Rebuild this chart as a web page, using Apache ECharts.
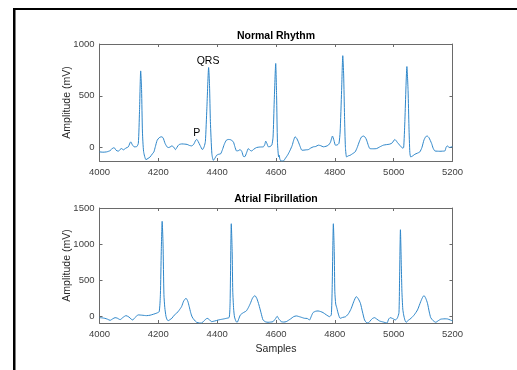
<!DOCTYPE html>
<html>
<head>
<meta charset="utf-8">
<script src="https://cdn.jsdelivr.net/npm/echarts@6/dist/echarts.min.js"></script>
<style>
  html, body { margin: 0; padding: 0; background: #fff; }
  #chart { width: 517px; height: 370px; }
</style>
</head>
<body>
<div id="chart"></div>
<script>
// Normal rhythm trace, [sample, amplitude]
const normalRhythm = [
  [4000,-42],[4012,-45],[4024,-42],[4036,-30],[4045,-5],[4050,-2],[4056,-25],[4064,-36],[4070,-18],[4075,-10],
  [4081,-22],[4090,-5],[4098,7],[4106,55],[4112,25],[4118,7],[4126,8],[4132,40],[4136,350],[4140,740],
  [4143,560],[4146,150],[4150,-40],[4158,-117],[4165,-105],[4172,-91],[4180,-60],[4185,-42],[4190,10],[4196,70],
  [4203,95],[4210,104],[4216,95],[4223,39],[4230,5],[4234,0],[4240,5],[4246,16],[4252,5],[4258,-20],
  [4264,5],[4270,28],[4280,35],[4290,33],[4298,30],[4306,20],[4313,16],[4320,30],[4327,70],[4331,78],
  [4336,55],[4342,20],[4350,-20],[4356,10],[4360,60],[4365,380],[4371,773],[4374,600],[4377,250],[4382,-60],
  [4387,-124],[4393,-100],[4398,-75],[4405,-65],[4412,-60],[4418,-20],[4424,30],[4431,70],[4438,78],[4446,75],
  [4455,55],[4460,10],[4466,-33],[4472,-30],[4478,-20],[4484,-40],[4489,-85],[4494,-88],[4500,-50],[4506,-10],
  [4511,-25],[4517,-33],[4525,-15],[4534,0],[4545,5],[4557,7],[4562,30],[4565,62],[4569,40],[4574,7],
  [4580,10],[4586,25],[4590,100],[4594,450],[4599,812],[4602,500],[4605,50],[4609,-91],[4611,-75],[4613,-110],
  [4617,-130],[4625,-130],[4631,-108],[4640,-70],[4648,-26],[4655,20],[4660,70],[4665,104],[4670,90],[4676,55],
  [4682,10],[4688,-26],[4695,-25],[4703,-22],[4710,-20],[4718,-5],[4727,7],[4735,10],[4744,23],[4752,18],
  [4761,7],[4770,12],[4778,23],[4785,50],[4792,111],[4797,70],[4802,23],[4808,25],[4814,40],[4818,150],
  [4823,550],[4827,887],[4830,700],[4833,300],[4836,0],[4840,-91],[4846,-80],[4852,-75],[4860,-60],[4869,-42],
  [4876,0],[4883,55],[4890,100],[4897,111],[4903,100],[4908,72],[4914,20],[4919,-10],[4930,-12],[4942,-10],
  [4952,5],[4965,23],[4975,28],[4987,33],[4995,45],[5004,78],[5010,60],[5015,39],[5022,20],[5030,-5],
  [5034,0],[5038,250],[5045,782],[5049,550],[5052,200],[5055,-50],[5058,-91],[5065,-80],[5072,-65],[5080,-55],
  [5089,-42],[5096,0],[5103,72],[5109,105],[5114,111],[5120,95],[5129,39],[5134,-5],[5140,-33],[5148,-35],
  [5157,-36],[5165,-35],[5174,-33],[5178,0],[5182,16],[5187,5],[5191,0],[5195,5],[5200,7]
];

// Atrial fibrillation trace, [sample, amplitude]
const atrialFib = [
  [4000,-19],[4009,-22],[4018,-28],[4027,-40],[4036,-56],[4045,-35],[4053,-19],[4060,-25],[4070,-46],[4080,-15],
  [4090,9],[4100,-10],[4108,-40],[4113,-51],[4120,-20],[4132,19],[4145,15],[4160,9],[4172,15],[4183,28],
  [4195,45],[4203,65],[4207,300],[4210,900],[4213,1315],[4216,1000],[4219,300],[4222,120],[4226,0],[4230,-50],
  [4234,-60],[4240,-45],[4246,-28],[4254,15],[4262,42],[4270,80],[4279,134],[4286,210],[4294,250],[4300,210],
  [4305,134],[4310,50],[4315,-10],[4322,-50],[4330,-83],[4340,-93],[4347,-93],[4356,-60],[4366,-28],[4373,-45],
  [4381,-74],[4392,-65],[4404,-51],[4418,-40],[4432,-28],[4441,-15],[4444,200],[4448,1282],[4451,900],[4453,350],
  [4456,100],[4459,-10],[4464,-70],[4468,-83],[4473,-40],[4479,19],[4489,50],[4499,74],[4506,120],[4513,180],
  [4520,250],[4528,287],[4535,245],[4542,157],[4549,50],[4556,-51],[4565,-78],[4573,-83],[4582,-80],[4590,-74],
  [4598,-35],[4604,0],[4610,-40],[4618,-74],[4626,-80],[4635,-74],[4650,-35],[4660,-5],[4669,5],[4683,-10],
  [4697,-28],[4706,-30],[4714,-51],[4720,0],[4726,51],[4735,70],[4743,74],[4752,65],[4760,51],[4771,20],
  [4782,-5],[4788,20],[4791,400],[4795,1282],[4798,900],[4800,340],[4803,170],[4807,111],[4812,30],[4818,-28],
  [4827,-15],[4837,-5],[4847,40],[4856,111],[4864,200],[4873,273],[4880,240],[4887,180],[4894,60],[4901,-51],
  [4907,-85],[4913,-93],[4920,-65],[4928,-30],[4935,-19],[4943,-40],[4952,-65],[4965,-80],[4977,-93],[4983,-40],
  [4988,-19],[4996,-30],[5006,-51],[5013,-20],[5018,50],[5020,500],[5023,1199],[5026,700],[5028,350],[5031,100],
  [5034,19],[5038,-50],[5042,-83],[5050,-55],[5059,-28],[5070,20],[5081,88],[5092,204],[5098,260],[5103,287],
  [5109,250],[5115,180],[5121,60],[5126,-19],[5134,-60],[5143,-83],[5152,-60],[5160,-40],[5166,-37],[5175,-35],
  [5183,-37],[5192,-50],[5200,-65]
];

const titles = ['Normal Rhythm', 'Atrial Fibrillation'];
const yLabel = 'Amplitude (mV)';
const xLabel = 'Samples';
// text annotations on the normal rhythm plot: [sample, amplitude, text]
const annotations = [[4369, 834, 'QRS'], [4331, 140, 'P']];

const FONT = 'Liberation Sans, Arial, sans-serif';
const AXIS_COLOR = '#6a6a6a';
const LINE_COLOR = '#2e86c9';

const chart = echarts.init(document.getElementById('chart'), null, { renderer: 'canvas' });

function xAxisPair(gridIndex, showName) {
  const base = {
    type: 'value', gridIndex, min: 4000, max: 5200, interval: 200,
    splitLine: { show: false },
    axisLine: { show: true, onZero: false, lineStyle: { color: AXIS_COLOR, width: 1 } },
    axisTick: { show: true, inside: true, length: 3, lineStyle: { color: AXIS_COLOR } },
  };
  return [
    Object.assign({}, base, {
      position: 'bottom',
      axisLabel: { color: '#404040', fontSize: 9.5, fontFamily: FONT, margin: 6, formatter: v => String(v) },
      name: showName ? xLabel : '',
      nameLocation: 'middle', nameGap: 21,
      nameTextStyle: { color: '#262626', fontSize: 10.5, fontFamily: FONT },
    }),
    Object.assign({}, base, { position: 'top', axisLabel: { show: false } }),
  ];
}

function yAxisPair(gridIndex, min, max, splitNumber) {
  const base = {
    type: 'value', gridIndex, min, max, splitNumber,
    splitLine: { show: false },
    axisLine: { show: true, onZero: false, lineStyle: { color: AXIS_COLOR, width: 1 } },
    axisTick: { show: true, inside: true, length: 3, lineStyle: { color: AXIS_COLOR } },
  };
  return [
    Object.assign({}, base, {
      position: 'left',
      axisLabel: { color: '#404040', fontSize: 9.5, fontFamily: FONT, margin: 5, showMinLabel: false,
        formatter: v => (v % 500 === 0 ? String(v) : '') },
      name: yLabel, nameLocation: 'middle', nameGap: 27, nameMoveOverlap: false,
      nameTextStyle: { color: '#262626', fontSize: 10.5, fontFamily: FONT },
    }),
    Object.assign({}, base, { position: 'right', axisLabel: { show: false } }),
  ];
}

const option = {
  backgroundColor: '#fff',
  animation: false,
  graphic: [
    // figure frame edges visible in the screenshot
    { type: 'rect', shape: { x: 13, y: 8, width: 517, height: 2 }, style: { fill: '#000' } },
    { type: 'rect', shape: { x: 13, y: 8, width: 2.5, height: 370 }, style: { fill: '#000' } },
  ],
  title: titles.map((t, i) => ({
    text: t, left: 276, top: i === 0 ? 31 : 194, textAlign: 'center', padding: 0,
    textStyle: { fontSize: 10.5, fontWeight: 'bold', color: '#000', fontFamily: FONT },
  })),
  grid: [
    { left: 99.5, top: 44, width: 353, height: 117 },
    { left: 99.5, top: 208, width: 353, height: 115 },
  ],
  xAxis: [...xAxisPair(0, false), ...xAxisPair(1, true)],
  yAxis: [...yAxisPair(0, -130, 1000, 2), ...yAxisPair(1, -93, 1500, 3)],
  series: [
    {
      name: titles[0], type: 'line', xAxisIndex: 0, yAxisIndex: 0,
      data: normalRhythm, showSymbol: false, clip: true, smooth: 0.2,
      lineStyle: { color: LINE_COLOR, width: 1 },
      markPoint: {
        symbol: 'circle', symbolSize: 0,
        data: annotations.map(a => ({
          coord: [a[0], a[1]],
          label: { show: true, position: 'inside', formatter: a[2], color: '#000', fontSize: 10.5, fontFamily: FONT },
        })),
      },
    },
    {
      name: titles[1], type: 'line', xAxisIndex: 2, yAxisIndex: 2,
      data: atrialFib, showSymbol: false, clip: true, smooth: 0.2,
      lineStyle: { color: LINE_COLOR, width: 1 },
    },
  ],
};

chart.setOption(option);
</script>
</body>
</html>
